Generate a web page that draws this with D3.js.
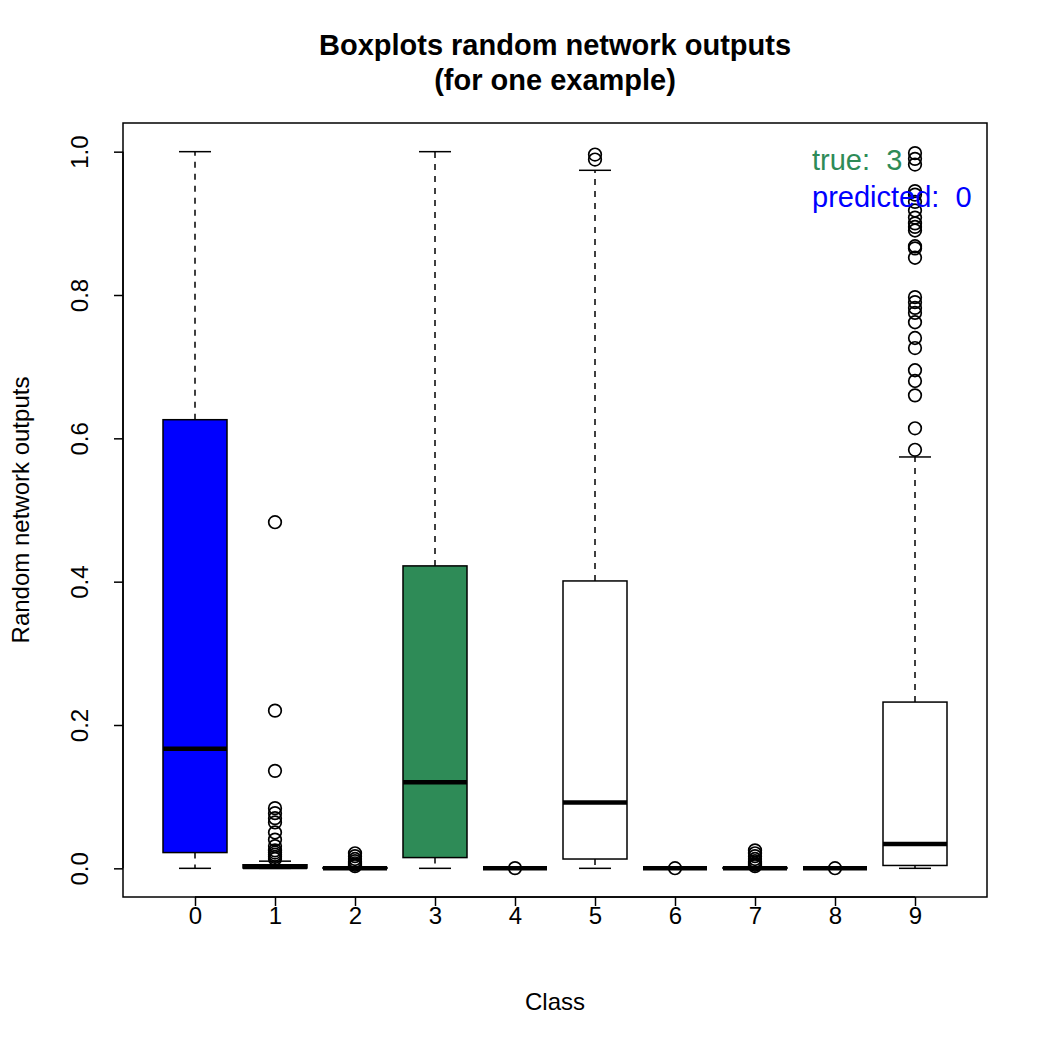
<!DOCTYPE html>
<html>
<head>
<meta charset="utf-8">
<script src="https://cdn.jsdelivr.net/npm/d3@7"></script>
<style>
  body { margin: 0; background: #fff; }
  svg text { font-family: "Liberation Sans", Arial, Helvetica, sans-serif; }
</style>
</head>
<body>
<svg id="chart" width="1050" height="1050"></svg>
<script>
// ── data ──
const classes = ["0", "1", "2", "3", "4", "5", "6", "7", "8", "9"];
// five numbers per class: lower whisker, Q1, median, Q3, upper whisker
const lowerWhisker = [0, 0, 0, 0, 0, 0, 0, 0, 0, 0];
const q1 = [0.022, 0.0005, 0, 0.015, 0, 0.013, 0, 0, 0, 0.004];
const medians = [0.167, 0.002, 0, 0.12, 0, 0.092, 0, 0, 0, 0.034];
const q3 = [0.626, 0.005, 0.001, 0.422, 0, 0.401, 0, 0.001, 0, 0.232];
const upperWhisker = [1.0, 0.010, 0.002, 1.0, 0, 0.974, 0, 0.002, 0, 0.574];
const outliers = [
  [],
  [0.483, 0.22, 0.136, 0.084, 0.077, 0.07, 0.064, 0.05, 0.04, 0.031, 0.025, 0.022, 0.019, 0.016, 0.013],
  [0.021, 0.017, 0.013, 0.01, 0.007, 0.005, 0.003],
  [],
  [0.0003],
  [0.996, 0.989],
  [0.0002],
  [0.025, 0.021, 0.017, 0.013, 0.01, 0.007, 0.005, 0.003],
  [0.0002],
  [0.998, 0.99, 0.982, 0.945, 0.94, 0.93, 0.918, 0.908, 0.9, 0.895, 0.89, 0.868, 0.865, 0.852,
   0.797, 0.79, 0.782, 0.775, 0.762, 0.74, 0.726, 0.695, 0.68, 0.66, 0.614, 0.584]
];
const boxFill = ["#0000ff", "white", "white", "#2e8b57", "white", "white", "white", "white", "white", "white"];
const yTicks = [0, 0.2, 0.4, 0.6, 0.8, 1.0];
const legendLines = [
  { label: "true:  3", color: "#2e8b57" },
  { label: "predicted:  0", color: "#0000ff" }
];

const boxes = classes.map((c, i) => ({
  cls: c, pos: i + 1,
  lo: lowerWhisker[i], q1: q1[i], med: medians[i], q3: q3[i], hi: upperWhisker[i],
  out: outliers[i], fill: boxFill[i]
}));

// ── layout ──
const svg = d3.select("#chart");
const plot = { left: 123, right: 987, top: 123, bottom: 897 };

const x = d3.scaleLinear().domain([0.1, 10.9]).range([plot.left, plot.right]);
const y = d3.scaleLinear().domain([-0.04, 1.04]).range([plot.bottom, plot.top]);

const boxW = x(0.8) - x(0);
const capW = boxW / 2;

// ── boxes ──
const g = svg.append("g");
const box = g.selectAll("g.box").data(boxes).enter().append("g").attr("class", "box");

// whiskers (dashed)
box.append("line")
  .attr("x1", d => x(d.pos)).attr("x2", d => x(d.pos))
  .attr("y1", d => y(d.q3)).attr("y2", d => y(d.hi))
  .attr("stroke", "black").attr("stroke-width", 1.5).attr("stroke-dasharray", "6,6");
box.append("line")
  .attr("x1", d => x(d.pos)).attr("x2", d => x(d.pos))
  .attr("y1", d => y(d.q1)).attr("y2", d => y(d.lo))
  .attr("stroke", "black").attr("stroke-width", 1.5).attr("stroke-dasharray", "6,6");

// caps
box.append("line")
  .attr("x1", d => x(d.pos) - capW / 2).attr("x2", d => x(d.pos) + capW / 2)
  .attr("y1", d => y(d.hi)).attr("y2", d => y(d.hi))
  .attr("stroke", "black").attr("stroke-width", 1.5);
box.append("line")
  .attr("x1", d => x(d.pos) - capW / 2).attr("x2", d => x(d.pos) + capW / 2)
  .attr("y1", d => y(d.lo)).attr("y2", d => y(d.lo))
  .attr("stroke", "black").attr("stroke-width", 1.5);

// box
box.append("rect")
  .attr("x", d => x(d.pos) - boxW / 2)
  .attr("width", boxW)
  .attr("y", d => y(d.q3))
  .attr("height", d => y(d.q1) - y(d.q3))
  .attr("fill", d => d.fill)
  .attr("stroke", "black").attr("stroke-width", 1.5);

// median
box.append("line")
  .attr("x1", d => x(d.pos) - boxW / 2).attr("x2", d => x(d.pos) + boxW / 2)
  .attr("y1", d => y(d.med)).attr("y2", d => y(d.med))
  .attr("stroke", "black").attr("stroke-width", 4.5);

// outliers
box.selectAll("circle")
  .data(d => d.out.map(v => ({ pos: d.pos, v })))
  .enter().append("circle")
  .attr("cx", d => x(d.pos))
  .attr("cy", d => y(d.v))
  .attr("r", 6.3)
  .attr("fill", "none")
  .attr("stroke", "black").attr("stroke-width", 1.7);

// ── frame ──
svg.append("rect")
  .attr("x", plot.left).attr("y", plot.top)
  .attr("width", plot.right - plot.left).attr("height", plot.bottom - plot.top)
  .attr("fill", "none").attr("stroke", "black").attr("stroke-width", 1.5);

// ── axes ──
const yAxis = svg.append("g")
  .attr("transform", `translate(${plot.left},0)`)
  .call(d3.axisLeft(y).tickValues(yTicks).tickFormat(d3.format(".1f")).tickSize(9).tickPadding(0));
yAxis.select(".domain").remove();
yAxis.selectAll(".tick line").attr("stroke-width", 1.5);
yAxis.selectAll(".tick text")
  .attr("font-size", 24).attr("fill", "black")
  .attr("text-anchor", "middle").attr("dy", null).attr("x", null)
  .attr("transform", "translate(-35,0) rotate(-90)")
  .attr("y", 0);
yAxis.append("line")
  .attr("x1", 0).attr("x2", 0)
  .attr("y1", y(0)).attr("y2", y(1))
  .attr("stroke", "black").attr("stroke-width", 1.5);

const xAxis = svg.append("g")
  .attr("transform", `translate(0,${plot.bottom})`)
  .call(d3.axisBottom(x).tickValues(boxes.map(d => d.pos)).tickFormat((d, i) => classes[i]).tickSize(9).tickPadding(1));
xAxis.select(".domain").remove();
xAxis.selectAll(".tick line").attr("stroke-width", 1.5);
xAxis.selectAll(".tick text").attr("font-size", 24).attr("fill", "black");
xAxis.append("line")
  .attr("x1", x(1)).attr("x2", x(10))
  .attr("y1", 0).attr("y2", 0)
  .attr("stroke", "black").attr("stroke-width", 1.5);

// axis titles
svg.append("text")
  .attr("x", (plot.left + plot.right) / 2).attr("y", 1010)
  .attr("text-anchor", "middle").attr("font-size", 24)
  .text("Class");

svg.append("text")
  .attr("transform", `translate(29,${(plot.top + plot.bottom) / 2}) rotate(-90)`)
  .attr("text-anchor", "middle").attr("font-size", 24)
  .text("Random network outputs");

// ── title ──
svg.append("text")
  .attr("x", (plot.left + plot.right) / 2).attr("y", 55)
  .attr("text-anchor", "middle").attr("font-size", 29).attr("font-weight", "bold")
  .text("Boxplots random network outputs");
svg.append("text")
  .attr("x", (plot.left + plot.right) / 2).attr("y", 90)
  .attr("text-anchor", "middle").attr("font-size", 29).attr("font-weight", "bold")
  .text("(for one example)");

// ── legend ──
svg.append("g").selectAll("text")
  .data(legendLines).enter().append("text")
  .attr("x", 812)
  .attr("y", (d, i) => 170 + i * 37)
  .attr("font-size", 29)
  .attr("fill", d => d.color)
  .attr("xml:space", "preserve")
  .style("white-space", "pre")
  .text(d => d.label);
</script>
</body>
</html>
